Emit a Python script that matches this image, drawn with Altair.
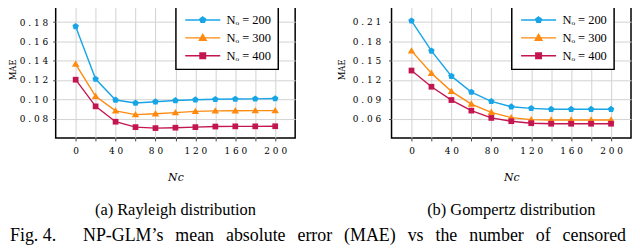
import altair as alt
import pandas as pd

# ---------------- data ----------------
nc = [0, 20, 40, 60, 80, 100, 120, 140, 160, 180, 200]
series_labels = ["Nₒ = 200", "Nₒ = 300", "Nₒ = 400"]
series_colors = ["#17A5E6", "#FF8A0F", "#C31650"]

rayleigh_200 = [0.1755, 0.1210, 0.0993, 0.0962, 0.0975, 0.0988, 0.0996, 0.1000, 0.1003, 0.1005, 0.1008]
rayleigh_300 = [0.1365, 0.1031, 0.0880, 0.0841, 0.0851, 0.0862, 0.0875, 0.0880, 0.0882, 0.0883, 0.0883]
rayleigh_400 = [0.1203, 0.0927, 0.0768, 0.0712, 0.0702, 0.0706, 0.0712, 0.0718, 0.0720, 0.0720, 0.0721]

gompertz_200 = [0.2115, 0.1648, 0.1257, 0.1010, 0.0866, 0.0784, 0.0758, 0.0745, 0.0745, 0.0745, 0.0745]
gompertz_300 = [0.1648, 0.1303, 0.1021, 0.0825, 0.0697, 0.0615, 0.0584, 0.0578, 0.0578, 0.0578, 0.0578]
gompertz_400 = [0.1344, 0.1093, 0.0887, 0.0723, 0.0610, 0.0559, 0.0528, 0.0520, 0.0520, 0.0520, 0.0520]

x_ticks = [0, 20, 40, 60, 80, 100, 120, 140, 160, 180, 200]
rayleigh_yticks = [0.08, 0.10, 0.12, 0.14, 0.16, 0.18]
gompertz_yticks = [0.06, 0.09, 0.12, 0.15, 0.18, 0.21]

caption_a = "(a) Rayleigh distribution"
caption_b = "(b) Gompertz distribution"
GAP = "\u2002\u2006"
fig_words = ["NP-GLM\u2019s", "mean", "absolute", "error", "(MAE)", "vs", "the", "number", "of", "censored"]
fig_caption = "Fig. 4.\u2003\u2002" + GAP.join(fig_words)

# marker shapes (pentagon, triangle, square)
marker_paths = [
    "M0,-1L0.951,-0.309L0.588,0.809L-0.588,0.809L-0.951,-0.309Z",
    "M0,-1.1L1.1,0.8L-1.1,0.8Z",
    "M-0.85,-0.85H0.85V0.85H-0.85Z",
]
legend_paths = [
    "M-4.4,0H4.4M0,-0.75L0.713,-0.232L0.441,0.607L-0.441,0.607L-0.713,-0.232Z",
    "M-4.4,0H4.4M0,-0.85L0.85,0.6L-0.85,0.6Z",
    "M-4.4,0H4.4M-0.7,-0.7H0.7V0.7H-0.7Z",
]

FONT = "DejaVu Serif"
LEG_FONT = "Liberation Serif"
CAP_FONT = "Liberation Serif"
W, H = 241, 138


def make_legend():
    return alt.Legend(
        title=None, orient="none", legendX=121, legendY=6,
        fillColor="white", strokeColor="black", padding=7,
        symbolSize=64, symbolStrokeWidth=1.4, symbolOffset=13.75,
        labelOffset=17.75, rowPadding=5, symbolOpacity=1,
        labelFont=LEG_FONT, labelFontSize=12.5, labelColor="black",
    )


def panel(values, ydom, yticks, caption, ytitle_x, ylabel_pad, extra_text=None):
    rows = []
    for lab, vals in zip(series_labels, values):
        for n, v in zip(nc, vals):
            rows.append({"Nc": n, "MAE": v, "series": lab})
    df = pd.DataFrame(rows)

    xenc = alt.X(
        "Nc:Q",
        scale=alt.Scale(domain=[-20, 220], nice=False, zero=False),
        axis=alt.Axis(
            values=x_ticks,
            labelExpr="datum.value % 40 == 0 ? join(split(toString(datum.value), ''), ' ') : ''",
            title="Nc", titleFont=FONT, titleFontStyle="italic", titleFontSize=11,
            titleFontWeight="normal", titleY=40, titleBaseline="middle",
            labelPadding=6, tickSize=3,
        ),
    )
    yenc = alt.Y(
        "MAE:Q",
        scale=alt.Scale(domain=ydom, nice=False, zero=False),
        axis=alt.Axis(
            values=yticks,
            labelExpr="join(split(format(datum.value, '.2f'), ''), ' ')",
            title="MAE", titleX=ytitle_x, titleY=H / 2, titleAngle=-90,
            titleBaseline="middle", titleAlign="center", titleFont=FONT,
            titleFontSize=8.5, titleFontWeight="normal",
            labelPadding=ylabel_pad, tickSize=3,
        ),
    )
    color_scale = alt.Scale(domain=series_labels, range=series_colors)
    base = alt.Chart(df)
    lines = base.mark_line(strokeWidth=1.4).encode(
        x=xenc, y=yenc, color=alt.Color("series:N", scale=color_scale, legend=None)
    )
    points = base.mark_point(filled=True, size=46, opacity=1).encode(
        x=xenc, y=yenc,
        color=alt.Color("series:N", scale=color_scale, legend=None),
        shape=alt.Shape("series:N", scale=alt.Scale(domain=series_labels, range=marker_paths), legend=None),
    )
    leg = base.mark_point(filled=True, opacity=0, size=64).encode(
        x=xenc, y=yenc,
        color=alt.Color("series:N", scale=color_scale, legend=make_legend()),
        stroke=alt.Stroke("series:N", scale=color_scale, legend=make_legend()),
        shape=alt.Shape("series:N", scale=alt.Scale(domain=series_labels, range=legend_paths), legend=make_legend()),
    )
    cap = alt.Chart(pd.DataFrame({"t": [caption]})).mark_text(
        font=CAP_FONT, fontSize=16.5, align="center", baseline="middle", color="black"
    ).encode(x=alt.value(W / 2), y=alt.value(211), text="t:N")
    layers = [lines, points, leg, cap]
    if extra_text is not None:
        fig = alt.Chart(pd.DataFrame({"t": [extra_text]})).mark_text(
            font=CAP_FONT, fontSize=18, align="left", baseline="middle", color="black"
        ).encode(x=alt.value(-46), y=alt.value(237), text="t:N")
        layers.append(fig)
    return alt.layer(*layers).resolve_scale(
        color="independent", shape="independent", stroke="independent"
    ).properties(width=W, height=H)


left = panel([rayleigh_200, rayleigh_300, rayleigh_400], [0.06, 0.202], rayleigh_yticks,
             caption_a, -43, 5, extra_text=fig_caption)
right = panel([gompertz_200, gompertz_300, gompertz_400], [0.03, 0.2424], gompertz_yticks,
              caption_b, -50, 8)

chart = alt.hconcat(left, right, spacing=97, bounds="flush").properties(
    padding={"top": -9, "left": 0, "right": 0, "bottom": 0}
).configure_view(
    stroke="black", strokeWidth=1.5
).configure_axis(
    grid=True, gridColor="#d2d2d2", gridWidth=1, domain=False,
    labelFont=FONT, labelFontSize=9, labelColor="black", tickColor="#444",
    titleColor="black",
).configure_legend(
    strokeWidth=1.5, labelFont=LEG_FONT, labelFontSize=12.5
)

chart.save("out.html", embed_options={"renderer": "svg", "actions": False})
